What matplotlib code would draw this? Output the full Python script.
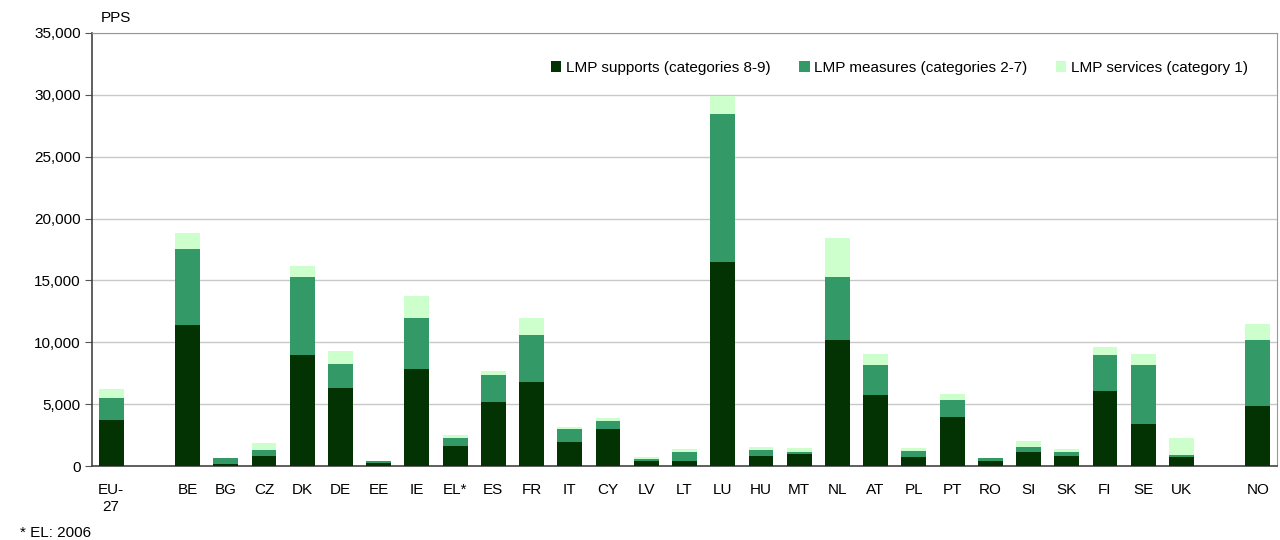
import matplotlib
matplotlib.use('Agg')
import matplotlib.pyplot as plt
import numpy as np

plt.rcParams['font.family'] = ['Liberation Sans', 'DejaVu Sans']

# categories ('' = empty gap slot)
labels = ['EU-\n27', '', 'BE', 'BG', 'CZ', 'DK', 'DE', 'EE', 'IE', 'EL*', 'ES', 'FR', 'IT',
          'CY', 'LV', 'LT', 'LU', 'HU', 'MT', 'NL', 'AT', 'PL', 'PT', 'RO', 'SI', 'SK',
          'FI', 'SE', 'UK', '', 'NO']
# cumulative tops (PPS)
supports = [3740, 0, 11420, 170, 810, 8990, 6310, 250, 7880, 1620, 5200, 6820, 1950,
            2990, 390, 390, 16450, 810, 980, 10220, 5750, 730, 3970, 390, 1150, 810,
            6090, 3410, 730, 0, 4860]
measures_top = [5500, 0, 17510, 640, 1290, 15250, 8270, 390, 11930, 2260, 7370, 10620, 2990,
                3660, 560, 1150, 28460, 1290, 1120, 15250, 8180, 1230, 5360, 640, 1540, 1120,
                8990, 8180, 890, 0, 10220]
services_top = [6250, 0, 18830, 660, 1840, 16150, 9330, 420, 13720, 2510, 7710, 11930, 3160,
                3880, 700, 1370, 29920, 1510, 1450, 18410, 9080, 1450, 5840, 660, 2040, 1370,
                9580, 9080, 2260, 0, 11510]

supports = np.array(supports)
measures = np.array(measures_top) - supports
services = np.array(services_top) - np.array(measures_top)

x = np.arange(len(labels))
w = 0.65
fs = 11

fig = plt.figure(figsize=(12.8, 5.4), dpi=100)
ax = fig.add_axes([92 / 1280, 1 - 466 / 540, 1185 / 1280, 433 / 540])

ax.bar(x, supports, w, color='#033303', label='LMP supports (categories 8-9)', zorder=3)
ax.bar(x, measures, w, bottom=supports, color='#339966', label='LMP measures (categories 2-7)', zorder=3)
ax.bar(x, services, w, bottom=supports + measures, color='#ccffcc', label='LMP services (category 1)', zorder=3)

ax.set_xlim(-0.5, len(labels) - 0.5)
ax.set_ylim(0, 35000)
ax.set_yticks(np.arange(0, 35001, 5000))
ax.set_yticklabels([f'{v:,}' for v in range(0, 35001, 5000)], fontsize=fs)
ax.set_xticks(x)
ax.set_xticklabels(labels, fontsize=fs, linespacing=1.3)
ax.tick_params(axis='x', length=0, pad=12)
ax.tick_params(axis='y', length=5, color='#555555', pad=3)
ax.grid(axis='y', color='#c8c8c8', linewidth=1, zorder=0)

for side in ['top', 'right']:
    ax.spines[side].set_color('#999999')
for side in ['left', 'bottom']:
    ax.spines[side].set_color('#444444')
    ax.spines[side].set_linewidth(1.2)

ax.legend(loc='center right', bbox_to_anchor=(0.9806, 0.919), ncol=3, frameon=False,
          fontsize=fs, handlelength=0.7, handleheight=0.7, handletextpad=0.3,
          columnspacing=1.85, borderaxespad=0)

fig.text(101 / 1280, 1 - 18 / 540, 'PPS', fontsize=fs, va='center', ha='left')
fig.text(20 / 1280, 1 - 533 / 540, '* EL: 2006', fontsize=fs, va='center', ha='left')

fig.savefig('out.png', dpi=100)
